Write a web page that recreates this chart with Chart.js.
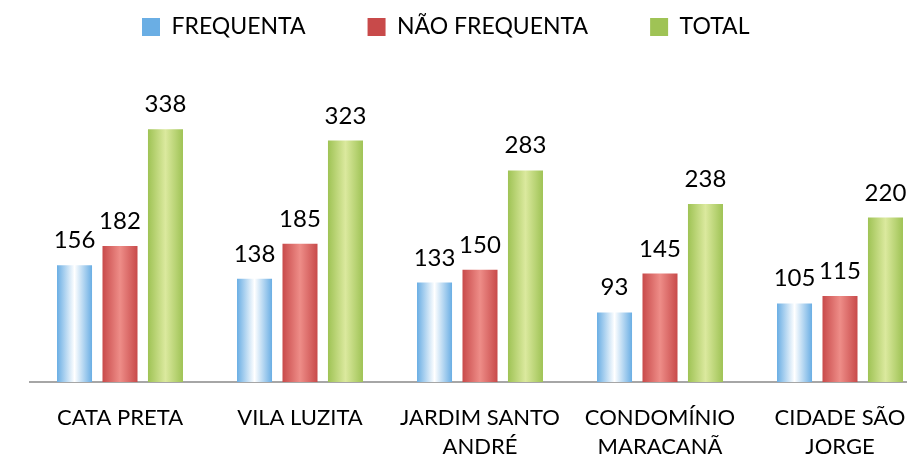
<!DOCTYPE html>
<html>
<head>
<meta charset="utf-8">
<script src="https://cdn.jsdelivr.net/npm/chart.js@4"></script>
<style>
  html, body { margin: 0; padding: 0; background: #fff; overflow: hidden; }
  #wrap { position: absolute; left: 0; top: 0; width: 930px; height: 456px; }
</style>
</head>
<body>
<div id="wrap"><canvas id="chart"></canvas></div>
<script>
// Alunos por bairro

const bairros = [
    ['CATA PRETA'],
    ['VILA LUZITA'],
    ['JARDIM SANTO', 'ANDRÉ'],
    ['CONDOMÍNIO', 'MARACANÃ'],
    ['CIDADE SÃO', 'JORGE']
];
const frequenta = [156, 138, 133, 93, 105];
const naoFrequenta = [182, 185, 150, 145, 115];
const total = [338, 323, 283, 238, 220];
const seriesNames = ['FREQUENTA', 'NÃO FREQUENTA', 'TOTAL'];

const FONT = 'Lato, "Open Sans", sans-serif';

// cores das barras: borda / centro
const shades = [
    ['#6aaee4', '#ffffff'],
    ['#c84a4a', '#ee8d88'],
    ['#9fc355', '#dbe99e']
];

// gradiente horizontal em cada barra
const gradientBars = {
    id: 'gradientBars',
    beforeDatasetsDraw(chart) {
        const ctx = chart.ctx;
        chart.data.datasets.forEach((ds, i) => {
            const meta = chart.getDatasetMeta(i);
            meta.data.forEach(el => {
                const { x, width } = el.getProps(['x', 'width'], true);
                const g = ctx.createLinearGradient(x - width / 2, 0, x + width / 2, 0);
                g.addColorStop(0, shades[i][0]);
                g.addColorStop(0.5, shades[i][1]);
                g.addColorStop(1, shades[i][0]);
                el.options = Object.assign({}, el.options, { backgroundColor: g });
            });
        });
    }
};

// valores acima das barras
const valueLabels = {
    id: 'valueLabels',
    afterDatasetsDraw(chart) {
        const ctx = chart.ctx;
        ctx.save();
        ctx.font = '24px ' + FONT;
        ctx.fillStyle = '#000';
        ctx.textAlign = 'center';
        ctx.textBaseline = 'alphabetic';
        chart.data.datasets.forEach((ds, i) => {
            chart.getDatasetMeta(i).data.forEach((el, j) => {
                ctx.fillText(ds.data[j], el.x, el.y - 17);
            });
        });
        ctx.restore();
    }
};

// posição da legenda
const LEG_PAD = 62;
const legendPlace = {
    id: 'legendPlace',
    beforeInit(chart) {
        const lg = chart.legend;
        const fit = lg.fit;
        lg.fit = function () {
            fit.call(this);
            this.height = 83;
        };
    },
    afterLayout(chart) {
        const lg = chart.legend;
        lg.left = 142 - LEG_PAD;
        lg.top = 27 - 11.5 - LEG_PAD;
    }
};

const datasets = [frequenta, naoFrequenta, total].map((values, i) => ({
    label: seriesNames[i],
    data: values,
    backgroundColor: shades[i][0],
    borderWidth: 0,
    categoryPercentage: 0.758,
    barPercentage: 0.77
}));

new Chart(document.getElementById('chart'), {
    type: 'bar',
    data: { labels: bairros, datasets: datasets },
    options: {
        responsive: true,
        maintainAspectRatio: false,
        animation: false,
        layout: { padding: { left: 30, right: 0, top: 0, bottom: -18 } },
        plugins: {
            legend: {
                align: 'start',
                labels: {
                    boxWidth: 18,
                    boxHeight: 18,
                    padding: LEG_PAD,
                    color: '#000',
                    font: { family: FONT, size: 23 },
                    generateLabels(chart) {
                        return chart.data.datasets.map((ds, i) => ({
                            text: ds.label,
                            fillStyle: shades[i][0],
                            strokeStyle: shades[i][0],
                            lineWidth: 0,
                            datasetIndex: i
                        }));
                    }
                }
            },
            tooltip: { enabled: false }
        },
        scales: {
            x: {
                grid: { display: false },
                border: { display: true, color: '#a6a6a6', width: 2 },
                ticks: {
                    color: '#000',
                    padding: 13,
                    maxRotation: 0,
                    autoSkip: false,
                    font: { family: FONT, size: 22, lineHeight: 1.32 }
                }
            },
            y: {
                display: false,
                min: 0,
                max: 400
            }
        }
    },
    plugins: [gradientBars, valueLabels, legendPlace]
});
</script>
</body>
</html>
